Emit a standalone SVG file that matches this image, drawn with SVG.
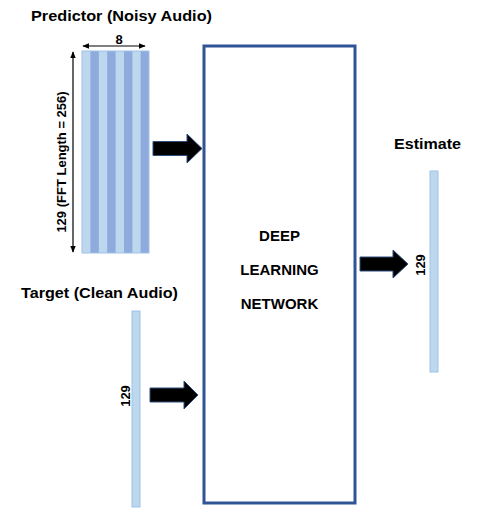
<svg xmlns="http://www.w3.org/2000/svg" width="480" height="520" viewBox="0 0 480 520">
<defs>
<style>
.t{font-family:"Liberation Sans",Arial,sans-serif;font-weight:bold;fill:#000;}
.lbl{font-size:15px;}
.lt{fill:#bdd7ee;}
.dk{fill:#8faadc;}
.bar{fill:#bdd7ee;stroke:#9dc3e6;stroke-width:1;}
.blk{fill:#000;stroke:#2f4f7f;stroke-width:1;}
.dim{stroke:#000;stroke-width:1.2;fill:none;}
</style>
<marker id="ah" viewBox="0 0 10 10" refX="9" refY="5" markerWidth="7" markerHeight="7" orient="auto-start-reverse" markerUnits="userSpaceOnUse">
<path d="M0,1 L10,5 L0,9 z" fill="#000"/>
</marker>
</defs>
<rect width="480" height="520" fill="#fff"/>

<g id="predictor">
<text class="t" x="31" y="21" font-size="15" textLength="181" lengthAdjust="spacingAndGlyphs">Predictor (Noisy Audio)</text>
<rect class="lt" x="82" y="51" width="67" height="202"/>
<rect class="dk" x="90.4" y="51" width="8.4" height="202"/>
<rect class="dk" x="107.2" y="51" width="8.4" height="202"/>
<rect class="dk" x="124" y="51" width="8.4" height="202"/>
<rect class="dk" x="140.6" y="51" width="8.4" height="202"/>
<rect x="82" y="51" width="67" height="202" fill="none" stroke="#9dc3e6" stroke-width="1"/>
<text class="t" x="119" y="44" font-size="13" text-anchor="middle">8</text>
<text class="t" font-size="13" text-anchor="middle" transform="translate(66,162) rotate(-90)">129 (FFT Length = 256)</text>
</g>

<g id="target">
<text class="t" x="21" y="298" font-size="15" textLength="157" lengthAdjust="spacingAndGlyphs">Target (Clean Audio)</text>
<rect class="bar" x="132" y="311" width="8" height="196"/>
<text class="t" font-size="13" text-anchor="middle" transform="translate(130,396) rotate(-90)">129</text>
</g>

<g id="network">
<rect x="204" y="46" width="151" height="457" fill="none" stroke="#2f5597" stroke-width="3"/>
<text class="t lbl" x="279.5" y="241" text-anchor="middle">DEEP</text>
<text class="t lbl" x="279.5" y="275" text-anchor="middle">LEARNING</text>
<text class="t lbl" x="279.5" y="309" text-anchor="middle">NETWORK</text>
</g>

<g id="estimate">
<text class="t" x="394" y="149" font-size="15" textLength="67" lengthAdjust="spacingAndGlyphs">Estimate</text>
<rect class="bar" x="430" y="171" width="8" height="201"/>
<text class="t" font-size="13" text-anchor="middle" transform="translate(425,265) rotate(-90)">129</text>
</g>

<g id="connectors">
<line class="dim" x1="83" y1="46" x2="145" y2="46" marker-start="url(#ah)" marker-end="url(#ah)"/>
<line class="dim" x1="73" y1="52" x2="73" y2="252" marker-start="url(#ah)" marker-end="url(#ah)"/>
<path class="blk" d="M153,141.5 H187 V134 L202,148.5 L187,163 V155.5 H153 Z"/>
<path class="blk" d="M150,388 H184 V381 L198,395 L184,409 V402 H150 Z"/>
<path class="blk" d="M360,257 H393 V250 L408,264 L393,278 V271 H360 Z"/>
</g>
</svg>
